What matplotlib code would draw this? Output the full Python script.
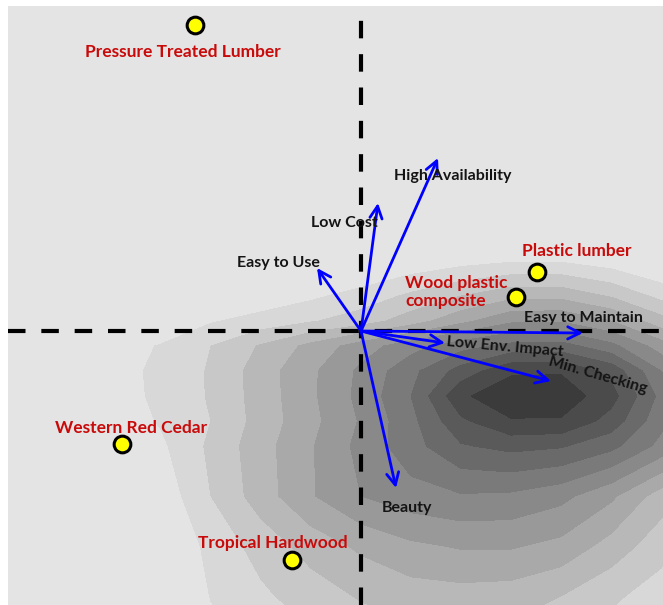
import matplotlib.pyplot as plt
import numpy as np

# density surface of respondent scores, in contour-level units
grid_x = [-3.5, -3.0, -2.5, -2.0, -1.5, -1.0, -0.5, 0.0, 0.5, 1.0, 1.5, 2.0, 2.5, 3.0, 3.5]
grid_y = [0.85, 0.35, 0.10, -0.15, -0.40, -0.65, -0.90, -1.15, -1.65, -2.15, -2.65, -3.15]
density = [
    [-5.0, -4.5, -4.0, -3.5, -3.0, -2.3, -1.6, -1.0, -0.6, -0.4, -0.3, -0.3, -0.6, -1.0, -1.5],
    [-3.0, -2.5, -1.8, -1.2, -0.4, 0.3, 0.8, 1.4, 2.2, 3.0, 3.7, 3.7, 2.9, 1.7, 0.5],
    [-2.0, -1.5, -0.8, -0.2, 0.9, 1.4, 1.9, 2.5, 3.5, 4.7, 5.8, 5.9, 5.0, 3.4, 1.8],
    [-1.2, -0.5, 0.3, 1.1, 2.0, 3.1, 4.3, 5.5, 6.6, 7.6, 8.3, 8.4, 7.3, 5.5, 4.0],
    [-1.0, -0.3, 0.45, 1.3, 2.1, 3.5, 4.8, 6.2, 7.7, 9.4, 10.8, 10.9, 9.7, 7.0, 5.0],
    [-1.0, -0.3, 0.45, 1.25, 2.1, 3.45, 4.8, 6.3, 8.0, 10.8, 11.8, 11.6, 10.4, 7.7, 5.5],
    [-1.0, -0.5, 0.3, 1.1, 2.0, 3.4, 4.7, 6.1, 7.7, 9.8, 10.9, 10.9, 9.6, 7.3, 5.2],
    [-1.5, -0.9, -0.1, 0.8, 2.2, 3.6, 4.9, 6.3, 7.6, 8.9, 9.3, 9.1, 8.3, 6.7, 5.0],
    [-2.0, -1.5, -0.7, 0.3, 2.0, 3.5, 4.9, 6.0, 6.6, 6.9, 6.8, 6.3, 5.2, 3.5, 2.0],
    [-2.5, -2.0, -1.0, -0.1, 1.3, 2.4, 3.4, 4.2, 4.8, 5.1, 5.1, 4.7, 3.6, 2.4, 1.2],
    [-3.0, -2.5, -1.5, -0.6, 1.05, 1.8, 2.5, 3.1, 3.5, 3.6, 3.5, 3.0, 2.2, 1.5, 0.6],
    [-3.5, -3.0, -2.0, -1.1, 0.6, 1.2, 1.7, 2.2, 2.5, 2.6, 2.5, 2.1, 1.4, 0.9, 0.0],
]

# decking products (scores)
products = ['Pressure Treated Lumber', 'Plastic lumber', 'Wood plastic\ncomposite',
            'Western Red Cedar', 'Tropical Hardwood']
prod_x = [-1.66, 1.76, 1.55, -2.39, -0.69]
prod_y = [3.06, 0.59, 0.34, -1.13, -2.29]

# attribute loadings
attributes = ['Easy to Use', 'Low Cost', 'High Availability', 'Easy to Maintain',
              'Low Env. Impact', 'Min. Checking', 'Beauty']
attr_x = [-0.44, 0.17, 0.77, 2.22, 0.84, 1.90, 0.35]
attr_y = [0.63, 1.28, 1.73, -0.02, -0.12, -0.50, -1.57]

# label placement (pixel offsets from the mark, alignment, rotation)
prod_offsets = [(-12, -27, 'center'), (40, 21, 'center'), (-111, 5, 'left'),
                (9, 16, 'center'), (-19, 17, 'center')]
attr_offsets = [(-39, 5, 0), (-34, -20, 0), (15, -18, 0), (0, 15, 0),
                (60, -4, -5), (47, 6, -16), (11, -20, 0)]

FONT = ['Lato', 'DejaVu Sans']
RED = '#c90a0a'

fig = plt.figure(figsize=(6.63, 6.05), dpi=100)
ax = fig.add_axes([8 / 663, 0, 655 / 663, 599 / 605])
ax.set_facecolor('#e4e4e4')

levels = np.arange(1, 13)
shades = [216, 200, 184, 169, 153, 137, 122, 106, 90, 75, 59]
colors = [(s / 255, s / 255, s / 255) for s in shades]
ax.contourf(grid_x, grid_y, np.array(density), levels=levels, colors=colors, zorder=1)

# dashed axes through the origin
dash = dict(color='black', lw=3, dashes=(4.2, 3.8), zorder=2)
ax.axhline(0, **dash)
ax.axvline(0, **dash)

for name, x, y, (dx, dy, rot) in zip(attributes, attr_x, attr_y, attr_offsets):
    ax.annotate('', xy=(x, y), xytext=(0, 0),
                arrowprops=dict(arrowstyle='->', color='#0000ff', lw=2,
                                mutation_scale=22, shrinkA=0, shrinkB=0),
                zorder=3)
    ax.annotate(name, xy=(x, y), xytext=(dx, dy), textcoords='offset pixels',
                ha='center', va='center', rotation=rot, fontsize=11.5,
                fontweight='bold', family=FONT, color='#141414', zorder=4)

ax.plot(prod_x, prod_y, 'o', ms=12, mfc='#ffff00', mec='black', mew=2.2, zorder=5)
for name, x, y, (dx, dy, ha) in zip(products, prod_x, prod_y, prod_offsets):
    ax.annotate(name, xy=(x, y), xytext=(dx, dy), textcoords='offset pixels',
                ha=ha, va='center', fontsize=12.5, fontweight='bold',
                family=FONT, color=RED, linespacing=1.1, zorder=4)

ax.set_xlim(-3.53, 3.02)
ax.set_ylim(-2.74, 3.25)
ax.set_xticks([])
ax.set_yticks([])
for s in ax.spines.values():
    s.set_visible(False)

fig.savefig('out.png', dpi=100, facecolor='white')
